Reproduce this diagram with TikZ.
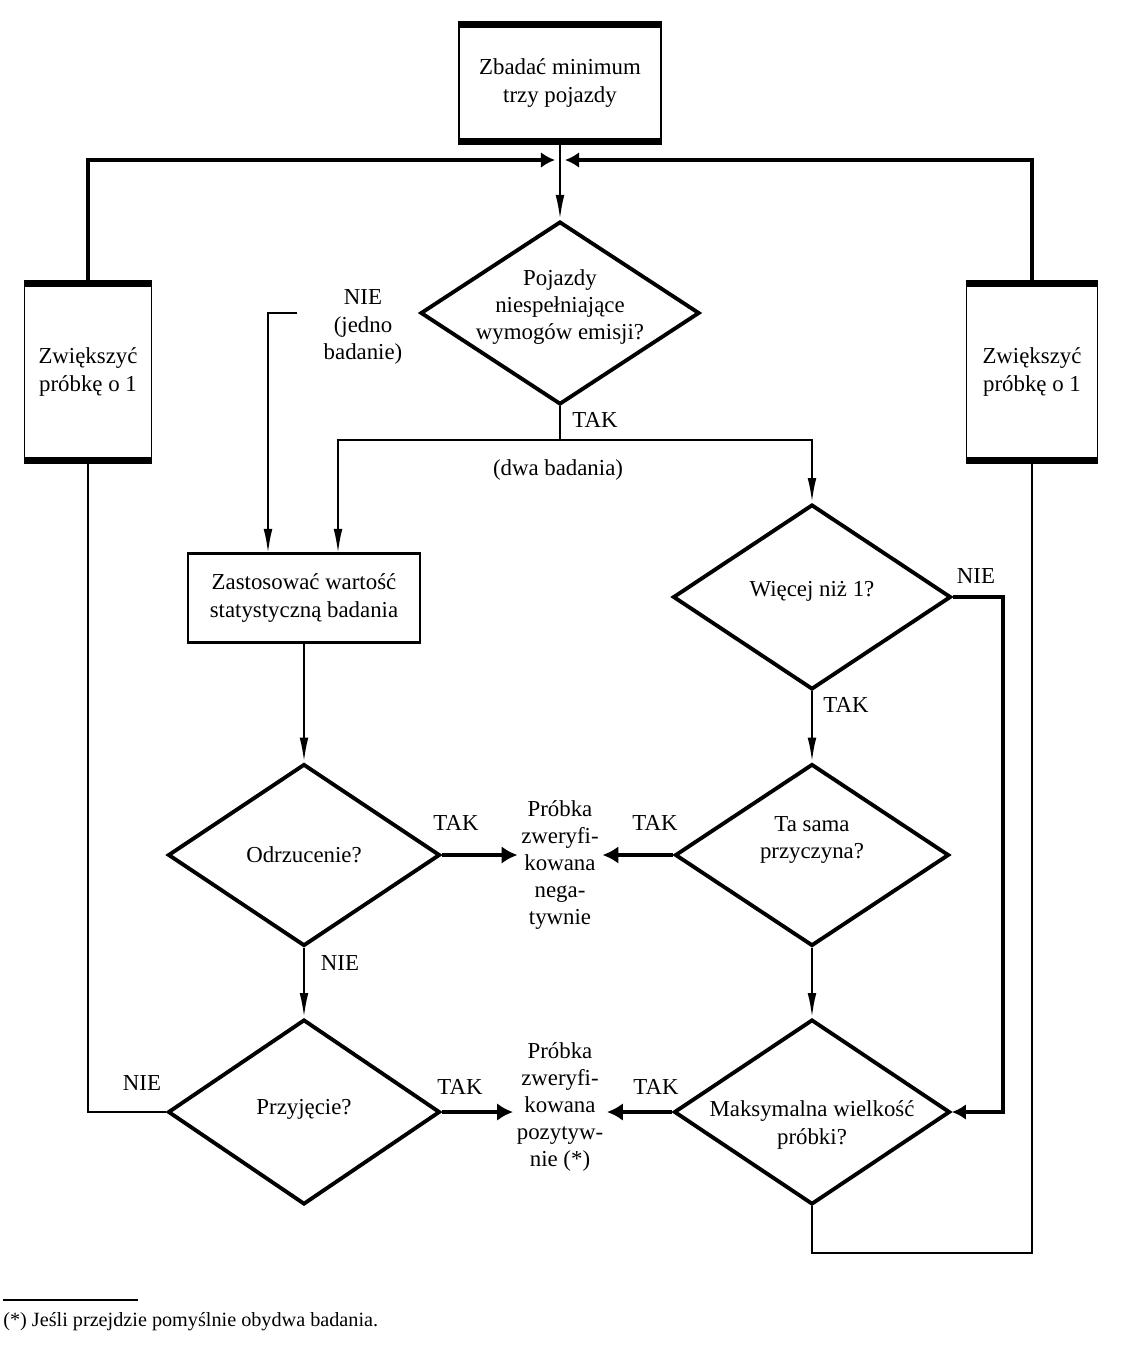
\documentclass[tikz,border=0pt]{standalone}
\usepackage{fontspec}
\setmainfont{Liberation Serif}
\usetikzlibrary{shapes.geometric, arrows.meta, positioning}

\begin{document}
\begin{tikzpicture}[x=0.02cm, y=-0.02cm,
    font=\fontsize{13}{15.5}\selectfont,
    box/.style={rectangle, draw, line width=1.1pt, align=center, inner sep=2pt},
    bar/.style={line width=3.5pt},
    decision/.style={diamond, draw, line width=2.2pt, inner sep=0pt},
    txt/.style={align=center, inner sep=2pt},
    line/.style={line width=1.3pt},
    arr/.style={line width=1.3pt, -{Latex[length=14pt,width=5pt]}},
    tarr/.style={line width=2.6pt, -{Latex[length=9pt,width=10pt]}},
    marr/.style={line width=2.2pt, -{Latex[length=8pt,width=9pt]}}
]
\useasboundingbox (0,0) rectangle (1123,1347);

% Boxes
\node[box, minimum width=4.04cm, minimum height=2.3cm] (zbadaj) at (560,83) {Zbadać minimum\\trzy pojazdy};
\node[box, minimum width=2.54cm, minimum height=3.5cm] (zwl) at (88,372) {Zwiększyć\\próbkę o 1};
\node[box, minimum width=2.62cm, minimum height=3.5cm] (zwp) at (1032,372) {Zwiększyć\\próbkę o 1};
\node[box, minimum width=4.64cm, minimum height=1.74cm] (zast) at (304,598) {Zastosować wartość\\statystyczną badania};
\foreach \b in {zbadaj,zwl,zwp} {
  \draw[bar] (\b.north west) -- (\b.north east);
  \draw[bar] (\b.south west) -- (\b.south east);
}
\draw[line width=2pt] (zast.north west) -- (zast.north east);
\draw[line width=2pt] (zast.south west) -- (zast.south east);

% Decisions
\node[decision, minimum width=5.58cm, minimum height=3.66cm,
  label={[txt, yshift=0.12cm]center:Pojazdy\\niespełniające\\wymogów emisji?}] (pojazdy) at (560,313) {};
\node[decision, minimum width=5.56cm, minimum height=3.7cm,
  label={[txt, yshift=0.12cm]center:Więcej niż 1?}] (wiecej) at (812,597) {};
\node[decision, minimum width=5.48cm, minimum height=3.64cm,
  label={[txt, yshift=0.3cm]center:Ta sama\\przyczyna?}] (tasama) at (812,855) {};
\node[decision, minimum width=5.52cm, minimum height=3.7cm,
  label={[txt, yshift=-0.26cm]center:Maksymalna wielkość\\próbki?}] (maks) at (812,1112) {};
\node[decision, minimum width=5.44cm, minimum height=3.64cm,
  label={[txt]center:Odrzucenie?}] (odrz) at (304,855) {};
\node[decision, minimum width=5.44cm, minimum height=3.7cm,
  label={[txt, yshift=0.05cm]center:Przyjęcie?}] (przyj) at (304,1112) {};

% Results
\node[txt] (neg) at (560,865) {Próbka\\zweryfi-\\kowana\\nega-\\tywnie};
\node[txt] (poz) at (560,1107) {Próbka\\zweryfi-\\kowana\\pozytyw-\\nie (*)};

% Helper points
\coordinate (merge) at (560,160);
\coordinate (split) at (560,440);
\coordinate (jedno) at (297,313);
\coordinate (nieR) at (1003,597);
\coordinate (loopR) at (1032,1253);

% Connectors
\draw[arr] (zbadaj.south) -- (pojazdy.north);
\draw[marr] (zwl.north) |- ([xshift=-0.1cm]merge);
\draw[marr] (zwp.north) |- ([xshift=0.1cm]merge);
\draw[line] (pojazdy.south) -- (split);
\draw[arr] (split) -| ([xshift=0.68cm]zast.north);
\draw[arr] (split) -| (wiecej.north);
\draw[arr] (jedno) -| ([xshift=-0.72cm]zast.north);
\draw[arr] (zast.south) -- (odrz.north);
\draw[arr] (odrz.south) -- (przyj.north);
\draw[arr] (wiecej.south) -- (tasama.north);
\draw[arr] (tasama.south) -- (maks.north);
\draw[tarr] (odrz.east) -- (odrz.east -| neg.west);
\draw[tarr] (tasama.west) -- (tasama.west -| neg.east);
\draw[tarr] (przyj.east) -- (przyj.east -| poz.west);
\draw[tarr] (maks.west) -- (maks.west -| poz.east);
\draw[marr] (wiecej.east) -- (nieR) |- (maks.east);
\draw[line] (przyj.west) -| (zwl.south);
\draw[line] (maks.south) |- (loopR) -- (zwp.south);

% Labels
\node[txt] (lTak1) at (595,420) {TAK};
\node[txt] (lDwa) at (558,470) {(dwa badania)};
\node[txt] (lJedno) at (363,327) {NIE\\(jedno\\badanie)};
\node[txt] (lNie1) at (976,576) {NIE};
\node[txt] (lTak2) at (846,705) {TAK};
\node[txt] (lTak3) at (456,823) {TAK};
\node[txt] (lTak4) at (655,823) {TAK};
\node[txt] (lNie2) at (340,963) {NIE};
\node[txt] (lTak5) at (460,1087) {TAK};
\node[txt] (lTak6) at (656,1087) {TAK};
\node[txt] (lNie3) at (142,1083) {NIE};

% Footnote
\draw[line width=0.6pt] (3,1300) -- (138,1300);
\node[anchor=west, inner sep=0pt, font=\fontsize{11.5}{13}\selectfont] (foot) at (3,1322) {(*) Jeśli przejdzie pomyślnie obydwa badania.};

\end{tikzpicture}
\end{document}
